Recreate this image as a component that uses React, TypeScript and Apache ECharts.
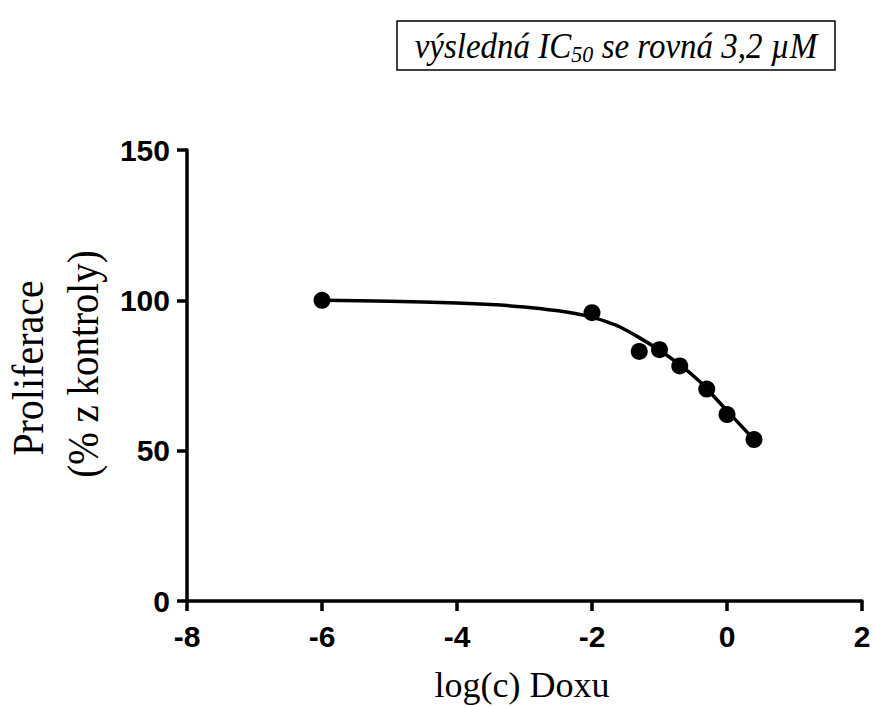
import React, { useEffect, useRef } from "react";
import * as echarts from "echarts";

const logConc = [-6, -2, -1.3, -1, -0.7, -0.3, 0, 0.4];
const proliferation = [100, 95.9, 83.0, 83.6, 78.2, 70.5, 62.0, 53.7];

const curveX = [-6, -5, -4, -3.5, -3, -2.5, -2.25, -2, -1.8, -1.6, -1.3, -1, -0.7, -0.4, -0.2, 0, 0.2, 0.4];
const curveY = [100, 99.7, 99.1, 98.6, 97.8, 96.5, 95.6, 94.4, 93.0, 91.3, 87.6, 83.4, 78.6, 72.9, 68.2, 63.3, 58.5, 53.7];

const xTicks = { min: -8, max: 2, interval: 2 };
const yTicks = { min: 0, max: 150, interval: 50 };

const yTitle1 = "Proliferace";
const yTitle2 = "(% z kontroly)";
const xTitle = "log(c) Doxu";

export default function App() {
  const ref = useRef<HTMLDivElement>(null);
  useEffect(() => {
    if (!ref.current) return;
    const chart = echarts.init(ref.current, null, { renderer: "svg" });
    const labelStyle = {
      fontFamily: "Liberation Sans, Arial, sans-serif",
      fontWeight: "bold" as const,
      fontSize: 30,
      color: "#000",
    };
    const axisLine = { show: true, onZero: false, lineStyle: { color: "#000", width: 3.5 } };
    const serif = "Liberation Serif, Times New Roman, serif";
    chart.setOption({
      animation: false,
      backgroundColor: "#fff",
      grid: { left: 187, right: 12, top: 150, bottom: 106, outerBoundsMode: "none", containLabel: false },
      xAxis: {
        type: "value",
        min: xTicks.min,
        max: xTicks.max,
        interval: xTicks.interval,
        axisLine,
        axisTick: { show: true, length: 10, lineStyle: { color: "#000", width: 3.5 } },
        axisLabel: { ...labelStyle, margin: 20 },
        splitLine: { show: false },
      },
      yAxis: {
        type: "value",
        min: yTicks.min,
        max: yTicks.max,
        interval: yTicks.interval,
        axisLine,
        axisTick: { show: true, length: 10, lineStyle: { color: "#000", width: 3.5 } },
        axisLabel: { ...labelStyle, margin: 17 },
        splitLine: { show: false },
      },
      series: [
        {
          type: "line",
          data: curveX.map((x, i) => [x, curveY[i]]),
          smooth: 0.3,
          showSymbol: false,
          symbol: "none",
          lineStyle: { color: "#000", width: 3.5 },
          z: 2,
        },
        {
          type: "scatter",
          data: logConc.map((x, i) => [x, proliferation[i]]),
          symbol: "circle",
          symbolSize: 17,
          itemStyle: { color: "#000", opacity: 1 },
          z: 3,
        },
      ],
      graphic: [
        {
          type: "rect",
          shape: { x: 397, y: 21, width: 438, height: 49 },
          style: { fill: "#fff", stroke: "#000", lineWidth: 1.5 },
        },
        {
          type: "text",
          x: 616,
          y: 46,
          scaleY: 1.08,
          style: {
            text: "{a|výsledná IC}{s|50}{a| se rovná 3,2 µM}",
            align: "center",
            verticalAlign: "middle",
            rich: {
              a: { fontFamily: serif, fontStyle: "italic", fontSize: 33, fill: "#000", lineHeight: 38 },
              s: {
                fontFamily: serif,
                fontStyle: "italic",
                fontSize: 22,
                fill: "#000",
                lineHeight: 28,
                verticalAlign: "bottom",
              },
            },
          },
        },
        {
          type: "text",
          x: 28,
          y: 368,
          rotation: Math.PI / 2,
          scaleY: 1.12,
          style: { text: yTitle1, align: "center", verticalAlign: "middle", fontFamily: serif, fontSize: 40, fill: "#000" },
        },
        {
          type: "text",
          x: 83,
          y: 364,
          rotation: Math.PI / 2,
          scaleY: 1.12,
          style: { text: yTitle2, align: "center", verticalAlign: "middle", fontFamily: serif, fontSize: 39, fill: "#000" },
        },
        {
          type: "text",
          x: 522,
          y: 685,
          style: { text: xTitle, align: "center", verticalAlign: "middle", fontFamily: serif, fontSize: 36, fill: "#000" },
        },
      ],
    });
    return () => chart.dispose();
  }, []);
  return (
    <div
      ref={ref}
      style={{ position: "fixed", left: 0, top: 0, width: 874, height: 707, background: "#fff" }}
    />
  );
}
